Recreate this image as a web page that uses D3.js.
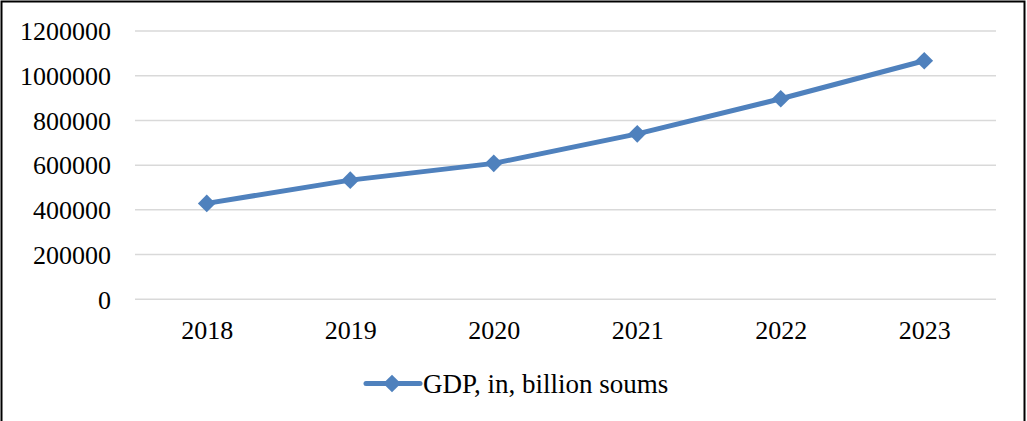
<!DOCTYPE html>
<html>
<head>
<meta charset="utf-8">
<script src="https://cdn.jsdelivr.net/npm/d3@7"></script>
<style>
  html, body { margin: 0; padding: 0; background: #fff; }
  svg { display: block; }
  text { font-family: "Liberation Serif", "Times New Roman", serif; fill: #000; }
</style>
</head>
<body>
<svg id="chart" width="1027" height="421"></svg>
<script>
const categories = ["2018", "2019", "2020", "2021", "2022", "2023"];
const gdpValues = [429000, 533000, 608000, 740000, 897000, 1067000];
const yTicks = [0, 200000, 400000, 600000, 800000, 1000000, 1200000];
const seriesName = "GDP, in, billion soums";

const svg = d3.select("#chart");
const color = "#4F81BD";

// outer frame
svg.append("rect").attr("x", 1.5).attr("y", 1.5).attr("width", 1023).attr("height", 425)
  .attr("fill", "none").attr("stroke", "#000").attr("stroke-width", 2);

const x = d3.scalePoint().domain(categories).range([135, 996]).padding(0.5);
const y = d3.scaleLinear().domain([0, 1200000]).range([299.3, 31]);

// gridlines
svg.append("g").selectAll("line").data(yTicks).join("line")
  .attr("x1", 135).attr("x2", 996)
  .attr("y1", d => y(d)).attr("y2", d => y(d))
  .attr("stroke", "#d9d9d9").attr("stroke-width", 1.5);

// y axis labels
const yAxis = d3.axisLeft(y).tickValues(yTicks).tickSize(0).tickPadding(0).tickFormat(d3.format("d"));
const gy = svg.append("g").attr("transform", "translate(111,0)").call(yAxis);
gy.select(".domain").remove();
gy.selectAll("text").attr("font-size", 26).attr("font-family", "Liberation Serif").attr("fill", "#000").attr("dy", "0.34em");

// x axis labels
const xAxis = d3.axisBottom(x).tickSize(0).tickPadding(0);
const gx = svg.append("g").attr("transform", "translate(0,320)").call(xAxis);
gx.select(".domain").remove();
gx.selectAll("text").attr("font-size", 26).attr("font-family", "Liberation Serif").attr("fill", "#000").attr("dy", "0.74em");

// line
const pts = categories.map((c, i) => [x(c), y(gdpValues[i])]);
svg.append("path").datum(pts)
  .attr("d", d3.line())
  .attr("fill", "none").attr("stroke", color).attr("stroke-width", 5)
  .attr("stroke-linejoin", "round").attr("stroke-linecap", "round");

const diamond = d3.symbol().type(d3.symbolDiamond2).size(2 * 10 * 10);
svg.append("g").selectAll("path").data(pts).join("path")
  .attr("transform", d => `translate(${d[0]},${d[1]})`)
  .attr("d", diamond)
  .attr("fill", color);

// legend
const lg = svg.append("g");
lg.append("line").attr("x1", 366).attr("x2", 420).attr("y1", 383.5).attr("y2", 383.5)
  .attr("stroke", color).attr("stroke-width", 5).attr("stroke-linecap", "round");
lg.append("path").attr("transform", "translate(392,383.5)").attr("d", diamond).attr("fill", color);
lg.append("text").attr("x", 423).attr("y", 393).attr("font-size", 27).text(seriesName);
</script>
</body>
</html>
